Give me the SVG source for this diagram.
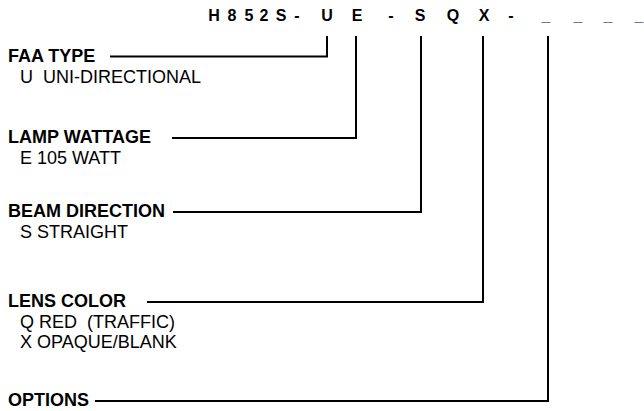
<svg xmlns="http://www.w3.org/2000/svg" width="644" height="411" viewBox="0 0 644 411">
<style>
text{font-family:"Liberation Sans",Arial,sans-serif;fill:#000}
.t{font-size:16px;font-weight:bold;text-anchor:middle}
.h{font-size:18px;font-weight:bold}
.d{font-size:18px}
.c{fill:none;stroke:#000;stroke-width:2}
</style>
<rect width="644" height="411" fill="#fff"/>
<g id="title">
<text class="t" x="214" y="21">H</text>
<text class="t" x="232" y="21">8</text>
<text class="t" x="249" y="21">5</text>
<text class="t" x="264" y="21">2</text>
<text class="t" x="281" y="21">S</text>
<text class="t" x="297" y="21">-</text>
<text class="t" x="327" y="21">U</text>
<text class="t" x="357" y="21">E</text>
<text class="t" x="391" y="21">-</text>
<text class="t" x="420" y="21">S</text>
<text class="t" x="453" y="21">Q</text>
<text class="t" x="484" y="21">X</text>
<text class="t" x="511" y="21">-</text>
<text class="t" x="546" y="21">_</text>
<text class="t" x="578" y="21">_</text>
<text class="t" x="608" y="21">_</text>
<text class="t" x="639" y="21">_</text>
</g>
<g id="faa-type">
<text class="h" x="8" y="62">FAA TYPE</text>
<text class="d" x="20" y="83" xml:space="preserve">U  UNI-DIRECTIONAL</text>
</g>
<g id="lamp-wattage">
<text class="h" x="8" y="143">LAMP WATTAGE</text>
<text class="d" x="20" y="164">E 105 WATT</text>
</g>
<g id="beam-direction">
<text class="h" x="8" y="217">BEAM DIRECTION</text>
<text class="d" x="20" y="238">S STRAIGHT</text>
</g>
<g id="lens-color">
<text class="h" x="8" y="307">LENS COLOR</text>
<text class="d" x="20" y="328" xml:space="preserve">Q RED  (TRAFFIC)</text>
<text class="d" x="20" y="348">X OPAQUE/BLANK</text>
</g>
<g id="options">
<text class="h" x="8" y="406">OPTIONS</text>
</g>
<g id="connectors">
<polyline class="c" points="110,56.5 327,56.5 327,36"/>
<polyline class="c" points="172,138 356,138 356,36"/>
<polyline class="c" points="173,212 421,212 421,36"/>
<polyline class="c" points="147,302 483,302 483,36"/>
<polyline class="c" points="95,401 548,401 548,36"/>
</g>
</svg>
